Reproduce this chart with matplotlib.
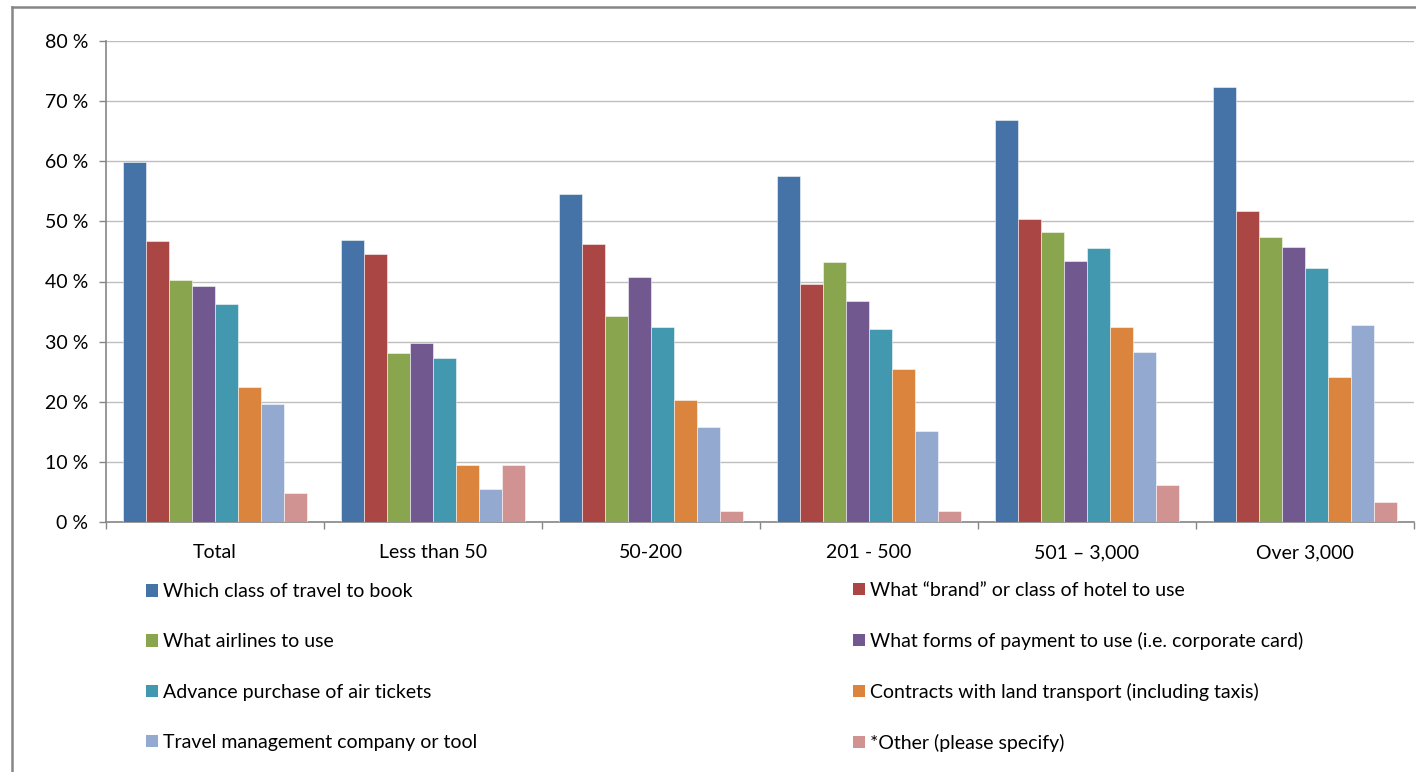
import matplotlib
matplotlib.use("Agg")
import matplotlib.pyplot as plt
from matplotlib.patches import Patch
from matplotlib.lines import Line2D
import numpy as np

plt.rcParams['font.family'] = ['Lato', 'DejaVu Sans']

categories = ["Total", "Less than 50", "50-200", "201 - 500", "501 \u2013 3,000", "Over 3,000"]

series_names = [
    "Which class of travel to book",
    "What \u201cbrand\u201d or class of hotel to use",
    "What airlines to use",
    "What forms of payment to use (i.e. corporate card)",
    "Advance purchase of air tickets",
    "Contracts with land transport (including taxis)",
    "Travel management company or tool",
    "*Other (please specify)",
]

class_of_travel = [59.8, 46.9, 54.6, 57.5, 66.8, 72.4]
hotel_brand = [46.7, 44.5, 46.3, 39.6, 50.4, 51.7]
airlines = [40.3, 28.1, 34.3, 43.3, 48.3, 47.4]
payment_forms = [39.2, 29.7, 40.7, 36.8, 43.4, 45.7]
advance_purchase = [36.2, 27.3, 32.4, 32.1, 45.5, 42.2]
land_transport = [22.5, 9.4, 20.3, 25.5, 32.4, 24.1]
tmc_tool = [19.7, 5.5, 15.8, 15.1, 28.2, 32.7]
other = [4.8, 9.4, 1.8, 1.9, 6.2, 3.4]

values = [class_of_travel, hotel_brand, airlines, payment_forms,
          advance_purchase, land_transport, tmc_tool, other]

colors = ["#4572A7", "#AA4643", "#89A54E", "#71588F",
          "#4198AF", "#DB843D", "#93A9CF", "#D19392"]

y_ticks = [0, 10, 20, 30, 40, 50, 60, 70, 80]
y_tick_labels = ["0 %", "10 %", "20 %", "30 %", "40 %", "50 %", "60 %", "70 %", "80 %"]

W, H = 1416, 772
fig = plt.figure(figsize=(W / 100, H / 100), dpi=100)
fig.patch.set_facecolor("white")

ax = fig.add_axes([106 / W, 1 - 522 / H, 1308 / W, 481 / H])

n = len(values)
x = np.arange(len(categories))
bw = 0.1055
for i, (vals, c) in enumerate(zip(values, colors)):
    offs = (i - (n - 1) / 2) * bw
    ax.bar(x + offs, vals, width=bw, color=c, edgecolor=(1, 1, 1, 0.6),
           linewidth=0.6, zorder=3)

ax.set_xlim(-0.5, len(categories) - 0.5)
ax.set_ylim(0, 80)
ax.set_yticks(y_ticks)
ax.set_yticklabels(y_tick_labels)
ax.yaxis.grid(True, color="#BEBEBE", linewidth=1.0, zorder=0)
ax.set_axisbelow(True)

ax.set_xticks(x)
ax.set_xticklabels(categories)
ax.set_xticks(np.arange(-0.5, len(categories) + 0.5, 1.0), minor=True)
ax.tick_params(axis='x', which='major', length=0, pad=16, labelsize=14, colors="black")
ax.tick_params(axis='x', which='minor', length=5, color="#868686", width=1)
ax.tick_params(axis='y', length=5, color="#868686", width=1, pad=8, labelsize=14)

for s in ["top", "right"]:
    ax.spines[s].set_visible(False)
for s in ["left", "bottom"]:
    ax.spines[s].set_color("#868686")
    ax.spines[s].set_linewidth(1.2)

# Legend: two columns, row-major order
left_handles = [Patch(facecolor=colors[i], edgecolor='none') for i in range(0, n, 2)]
left_labels = [series_names[i] for i in range(0, n, 2)]
right_handles = [Patch(facecolor=colors[i], edgecolor='none') for i in range(1, n, 2)]
right_labels = [series_names[i] for i in range(1, n, 2)]

fs = 14
common = dict(loc='center left', frameon=False, fontsize=fs, borderpad=0,
              handlelength=0.6, handleheight=0.6, handletextpad=0.28,
              labelspacing=1.7, borderaxespad=0)
yc = 1 - 667 / H
fig.legend(left_handles, left_labels, bbox_to_anchor=(146 / W, yc), **common)
fig.legend(right_handles, right_labels, bbox_to_anchor=(853 / W, yc), **common)

# outer chart border (partially visible)
fig.add_artist(Line2D([12 / W, 12 / W], [0, 1 - 7 / H], color="#868686", linewidth=1.8,
                      transform=fig.transFigure))
fig.add_artist(Line2D([12 / W, 1], [1 - 7 / H, 1 - 7 / H], color="#868686", linewidth=1.8,
                      transform=fig.transFigure))

fig.savefig("out.png", dpi=100)
